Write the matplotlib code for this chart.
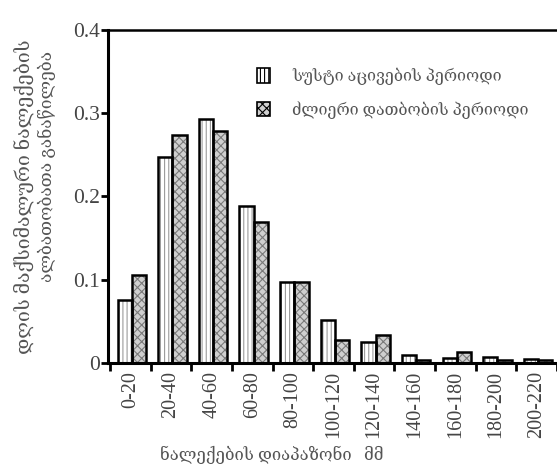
import numpy as np
import matplotlib
matplotlib.use("Agg")
import matplotlib.pyplot as plt
from matplotlib.patches import Patch

ranges = ["0-20", "20-40", "40-60", "60-80", "80-100", "100-120", "120-140",
          "140-160", "160-180", "180-200", "200-220"]
weak_cold = [0.076, 0.247, 0.293, 0.189, 0.097, 0.052, 0.025, 0.010, 0.006, 0.007, 0.005]
strong_warm = [0.105, 0.274, 0.278, 0.169, 0.097, 0.028, 0.033, 0.004, 0.013, 0.004, 0.003]

label_weak = "სუსტი აცივების პერიოდი"
label_strong = "ძლიერი დათბობის პერიოდი"
ylabel_1 = "დღის მაქსიმალური ნალექების"
ylabel_2 = "ალბათობათა განაწილება"
xlabel = "ნალექების დიაპაზონი   მმ"

plt.rcParams["font.family"] = ["Liberation Serif", "DejaVu Serif", "DejaVu Sans"]
plt.rcParams["hatch.linewidth"] = 0.8

fig = plt.figure(figsize=(5.57, 4.75), dpi=100)
ax = fig.add_axes([0.194, 0.236, 0.806, 0.701])

x = np.arange(len(ranges))
w = 0.35
xl = x - 0.14
xd = x + 0.21

# hatched fill first, then the black outline on top
ax.bar(xl, weak_cold, w, color="white", hatch="||||", edgecolor="#9a9a9a", linewidth=0)
ax.bar(xd, strong_warm, w, color="#cfcfcf", hatch="xxxx", edgecolor="#7a7a7a", linewidth=0)
ax.bar(xl, weak_cold, w, fill=False, edgecolor="black", linewidth=1.8)
ax.bar(xd, strong_warm, w, fill=False, edgecolor="black", linewidth=1.8)

ax.set_xlim(-0.55, 10.5)
ax.set_ylim(0, 0.4)
ax.set_yticks([0, 0.1, 0.2, 0.3, 0.4])
ax.set_yticklabels(["0", "0.1", "0.2", "0.3", "0.4"], fontsize=15.5, color="#444444")

ax.set_xticks(np.arange(len(ranges) + 1) - 0.5, minor=False)
ax.set_xticklabels([])
ax.set_xticks(x, minor=True)
ax.set_xticklabels(ranges, minor=True, rotation=90, fontsize=14.5, color="#444444")
ax.tick_params(axis="x", which="minor", length=0, pad=6)
ax.tick_params(axis="x", which="major", length=6, width=2, direction="out")
ax.tick_params(axis="y", length=5, width=2, direction="out", pad=1)

for s in ["left", "bottom"]:
    ax.spines[s].set_linewidth(2.2)
ax.spines["top"].set_linewidth(1.8)
ax.spines["right"].set_visible(False)

handles = [Patch(facecolor="white", hatch="||||", edgecolor="black", linewidth=1.2),
           Patch(facecolor="#cfcfcf", hatch="xxxx", edgecolor="black", linewidth=1.2)]
leg = ax.legend(handles, [label_weak, label_strong], loc="upper left",
                bbox_to_anchor=(0.3, 0.93), frameon=False, fontsize=11.5,
                handlelength=0.8, handleheight=1.0, handletextpad=1.4, labelspacing=1.0)
for t in leg.get_texts():
    t.set_color("#555555")

fig.text(272 / 557, 1 - 455 / 475, xlabel, ha="center", va="center", fontsize=12, color="#555555")
fig.text(24 / 557, 1 - 197 / 475, ylabel_1, ha="center", va="center", rotation=90,
         fontsize=14, color="#555555")
fig.text(47 / 557, 1 - 166 / 475, ylabel_2, ha="center", va="center", rotation=90,
         fontsize=12.5, color="#555555")

fig.savefig("out.png", dpi=100)
